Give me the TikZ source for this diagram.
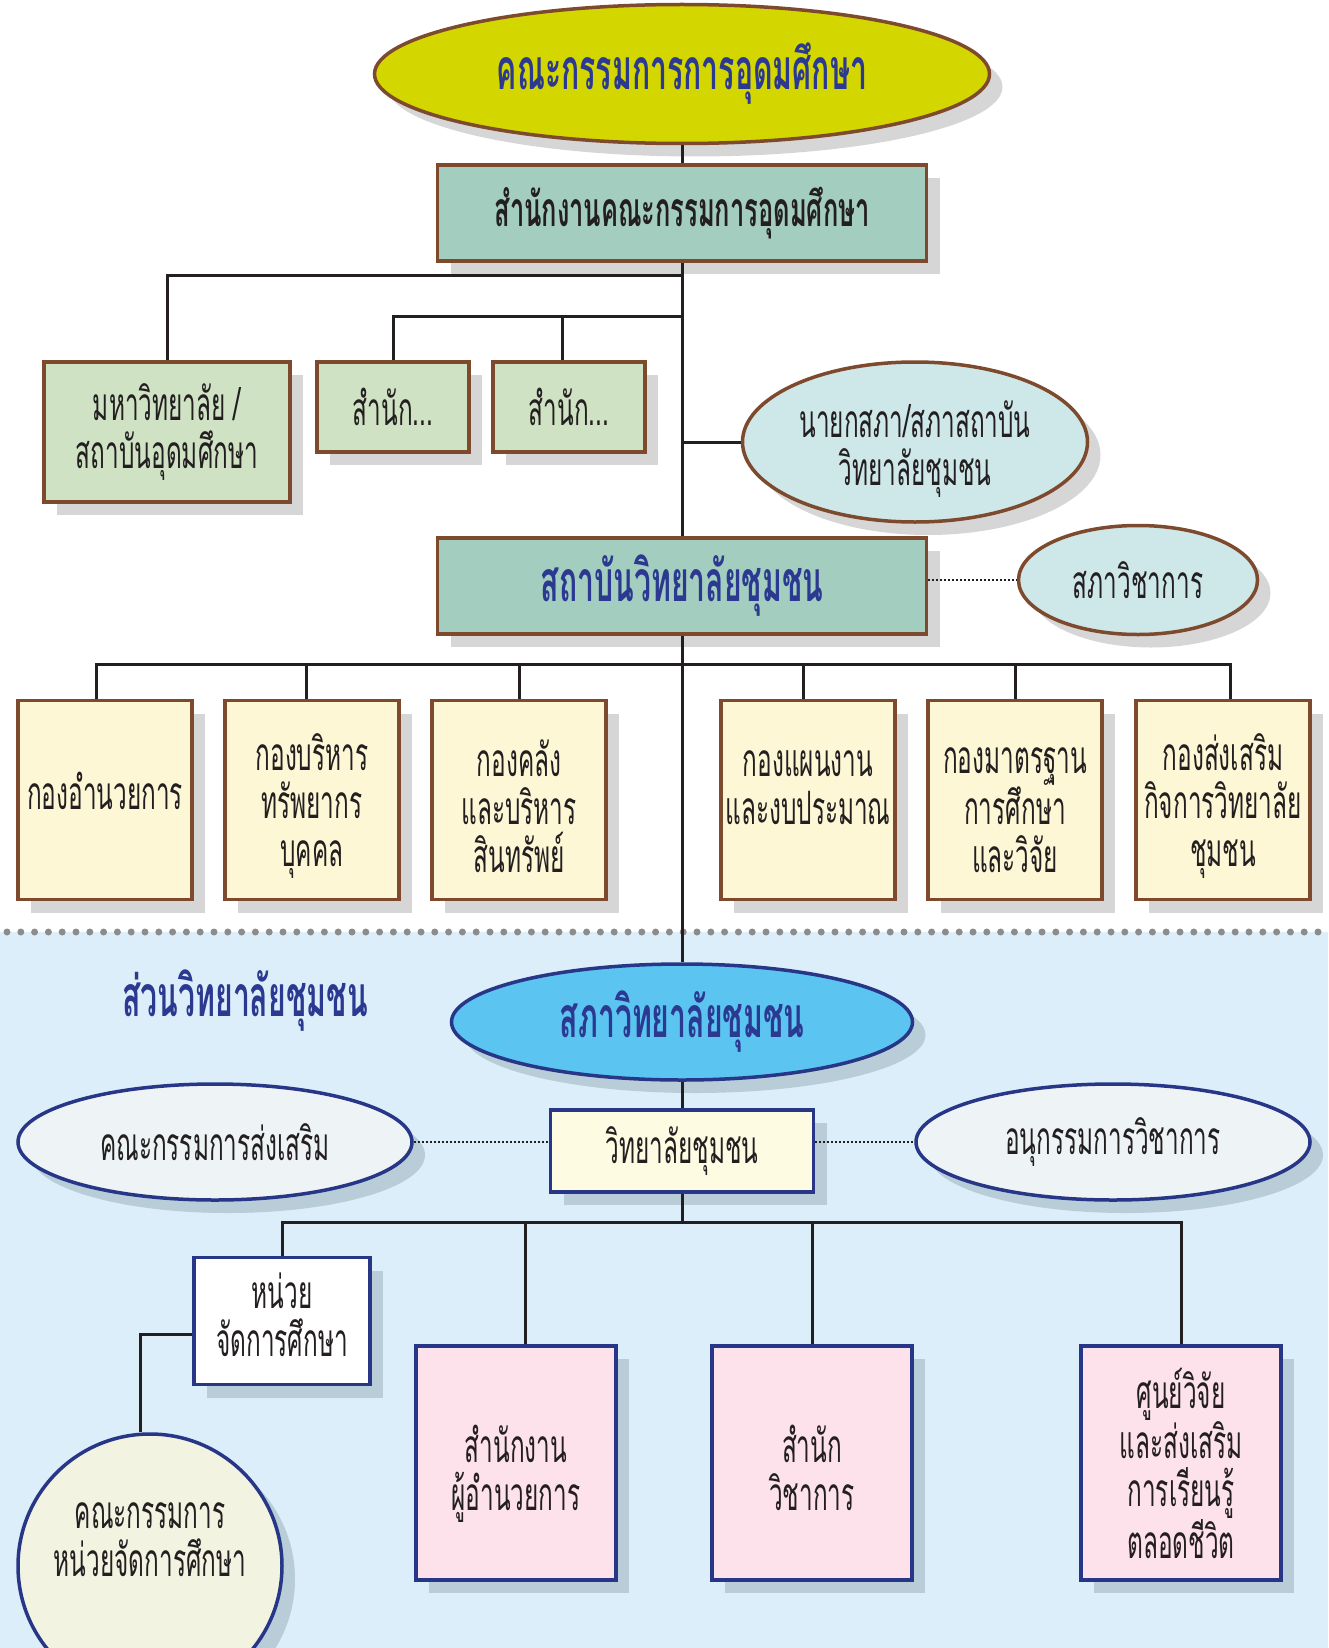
\documentclass[tikz,border=0pt]{standalone}
\usepackage{fontspec}
\newfontfamily\thai[Script=Thai,FakeStretch=0.53]{Loma}
\usetikzlibrary{shapes.geometric,shadows}
\definecolor{brownln}{HTML}{7E4A2E}
\definecolor{navyln}{HTML}{283688}
\definecolor{headblue}{HTML}{2B3990}
\definecolor{inkk}{HTML}{231F20}
\definecolor{olivefill}{HTML}{D4D600}
\definecolor{tealfill}{HTML}{A3CDBF}
\definecolor{leaffill}{HTML}{CFE2C4}
\definecolor{icefill}{HTML}{CEE7E8}
\definecolor{sandfill}{HTML}{FEF7D6}
\definecolor{skyfill}{HTML}{5BC4F1}
\definecolor{bgblue}{HTML}{DBEEF9}
\definecolor{creamfill}{HTML}{FEFBE3}
\definecolor{palefill}{HTML}{EEF4F5}
\definecolor{circfill}{HTML}{F2F3E0}
\definecolor{pinkfill}{HTML}{FDE1EB}
\definecolor{dotgray}{HTML}{8C8C8C}
\definecolor{shadg}{HTML}{D6D6D6}
\definecolor{shadb}{HTML}{B9CDD9}
\newcommand\txtreg{\thai\fontsize{46}{48}\selectfont}
\newcommand\txtmid{\thai\bfseries\fontsize{48}{52}\selectfont}
\newcommand\txthead{\thai\bfseries\fontsize{57}{60}\selectfont}
\tikzset{
  conn/.style   ={line width=3pt, draw=inkk},
  dotln/.style  ={line width=2pt, dash pattern=on 2pt off 2pt, draw=inkk},
  sepdots/.style={line width=7pt, dash pattern=on 0pt off 13.8pt, line cap=round, draw=dotgray},
  gshad/.style  ={drop shadow={shadow xshift=13pt, shadow yshift=-13pt, fill=shadg, opacity=1}},
  bshad/.style  ={drop shadow={shadow xshift=13pt, shadow yshift=-13pt, fill=shadb, opacity=1}},
  txtdrop/.style={text height=#1},
  ubox/.style   ={rectangle, draw=brownln, line width=3.5pt, gshad, inner sep=0pt, align=center, font=\txtreg, text=inkk},
  uell/.style   ={ellipse, draw=brownln, line width=3.5pt, gshad, inner sep=0pt, align=center, font=\txtreg, text=inkk},
  lbox/.style   ={rectangle, draw=navyln, line width=3.5pt, bshad, inner sep=0pt, align=center, font=\txtreg, text=inkk},
  lell/.style   ={ellipse, draw=navyln, line width=3.5pt, bshad, inner sep=0pt, align=center, font=\txtreg, text=inkk},
  divbox/.style ={ubox, fill=sandfill, minimum width=174pt, minimum height=199pt},
  unitbox/.style={lbox, fill=pinkfill, minimum width=200pt, minimum height=234pt}
}
\begin{document}
\begin{tikzpicture}[x=1pt,y=-1pt]
\useasboundingbox (0,0) rectangle (1328,1648);
\fill[bgblue] (0,932) rectangle (1328,1648);
\draw[sepdots] (7,932) -- (1328,932);

\node[uell, fill=olivefill, minimum width=615pt, minimum height=139pt, font=\txthead, text=headblue] (ohe) at (682,74) {คณะกรรมการการอุดมศึกษา};
\node[ubox, fill=tealfill, minimum width=489pt, minimum height=96pt, font=\txtmid] (ohec) at (682,213) {สำนักงานคณะกรรมการอุดมศึกษา};
\node[ubox, fill=leaffill, minimum width=246pt, minimum height=140pt] (univ) at (167,432) {มหาวิทยาลัย /\\สถาบันอุดมศึกษา};
\node[ubox, fill=leaffill, minimum width=152pt, minimum height=90pt] (off1) at (393,407) {สำนัก...};
\node[ubox, fill=leaffill, minimum width=152pt, minimum height=90pt] (off2) at (569,407) {สำนัก...};
\node[uell, fill=icefill, minimum width=345pt, minimum height=160pt, txtdrop=98pt] (pres) at (915,442) {นายกสภา/สภาสถาบัน\\วิทยาลัยชุมชน};
\node[ubox, fill=tealfill, minimum width=489pt, minimum height=96pt, font=\txthead, text=headblue] (cci) at (682,586) {สถาบันวิทยาลัยชุมชน};
\node[uell, fill=icefill, minimum width=239pt, minimum height=109pt] (acad) at (1138,580) {สภาวิชาการ};

\node[divbox, txtdrop=20pt] (dv1) at (105,800) {กองอำนวยการ};
\node[divbox, txtdrop=145pt] (dv2) at (312,800) {กองบริหาร\\ทรัพยากร\\บุคคล};
\node[divbox, txtdrop=145pt] (dv3) at (519,800) {กองคลัง\\และบริหาร\\สินทรัพย์};
\node[divbox, txtdrop=145pt] (dv4) at (808,800) {กองแผนงาน\\และงบประมาณ\\ \mbox{}};
\node[divbox, txtdrop=145pt] (dv5) at (1015,800) {กองมาตรฐาน\\การศึกษา\\และวิจัย};
\node[divbox, txtdrop=145pt] (dv6) at (1223,800) {กองส่งเสริม\\กิจการวิทยาลัย\\ชุมชน};

\node[font=\txthead, text=headblue] (part) at (245,1001) {ส่วนวิทยาลัยชุมชน};
\node[lell, fill=skyfill, minimum width=461pt, minimum height=116pt, font=\txthead, text=headblue] (ccc) at (682,1022) {สภาวิทยาลัยชุมชน};
\node[lbox, fill=creamfill, minimum width=263pt, minimum height=82pt] (col) at (682,1151) {วิทยาลัยชุมชน};
\node[lell, fill=palefill, minimum width=394pt, minimum height=116pt] (prom) at (215,1142) {คณะกรรมการส่งเสริม};
\node[lell, fill=palefill, minimum width=394pt, minimum height=116pt] (sub) at (1113,1142) {อนุกรรมการวิชาการ};
\node[lbox, fill=white, minimum width=176pt, minimum height=127pt, txtdrop=71pt] (unit) at (282,1321) {หน่วย\\จัดการศึกษา};
\node[lbox, circle, fill=circfill, minimum size=264pt, txtdrop=116pt] (ucom) at (150,1566) {คณะกรรมการ\\หน่วยจัดการศึกษา\\ \mbox{}};
\node[unitbox, txtdrop=107pt] (dir) at (516,1463) {สำนักงาน\\ผู้อำนวยการ};
\node[unitbox, txtdrop=96pt] (acoff) at (812,1463) {สำนัก\\วิชาการ};
\node[unitbox] (lrc) at (1181,1463) {ศูนย์วิจัย\\และส่งเสริม\\การเรียนรู้\\ตลอดชีวิต};

\coordinate (j1) at (682,275);
\coordinate (j2) at (682,316);
\coordinate (j3) at (682,664);
\coordinate (j4) at (682,1222);
\draw[conn] (ohe) -- (ohec);
\draw[conn] (ohec) -- (cci);
\draw[conn] (univ.north) |- (j1);
\draw[conn] (off1.north) |- (j2);
\draw[conn] ([xshift=-7pt]off2.north) |- (j2);
\draw[conn] (pres.west) -- (pres.west -| ohec.south);
\draw[dotln] (acad.west -| cci.east) -- (acad.west);
\draw[conn] ([xshift=-9pt]dv1.north) |- (j3);
\draw[conn] ([xshift=-6pt]dv2.north) |- (j3);
\draw[conn] (dv3.north) |- (j3);
\draw[conn] ([xshift=-5pt]dv4.north) |- (j3);
\draw[conn] (dv5.north) |- (j3);
\draw[conn] ([xshift=7pt]dv6.north) |- (j3);
\draw[conn] (cci) -- (ccc);
\draw[conn] (ccc) -- (col);
\draw[dotln] (prom.east) -- (prom.east -| col.west);
\draw[dotln] (sub.west -| col.east) -- (sub.west);
\draw[conn] (col.south) -- (j4);
\draw[conn] (unit.north) |- (j4);
\draw[conn] ([xshift=9pt]dir.north) |- (j4);
\draw[conn] (acoff.north) |- (j4);
\draw[conn] (lrc.north) |- (j4);
\draw[conn] ([yshift=-13pt]unit.west) -| ([xshift=-10pt]ucom.north);
\end{tikzpicture}
\end{document}
